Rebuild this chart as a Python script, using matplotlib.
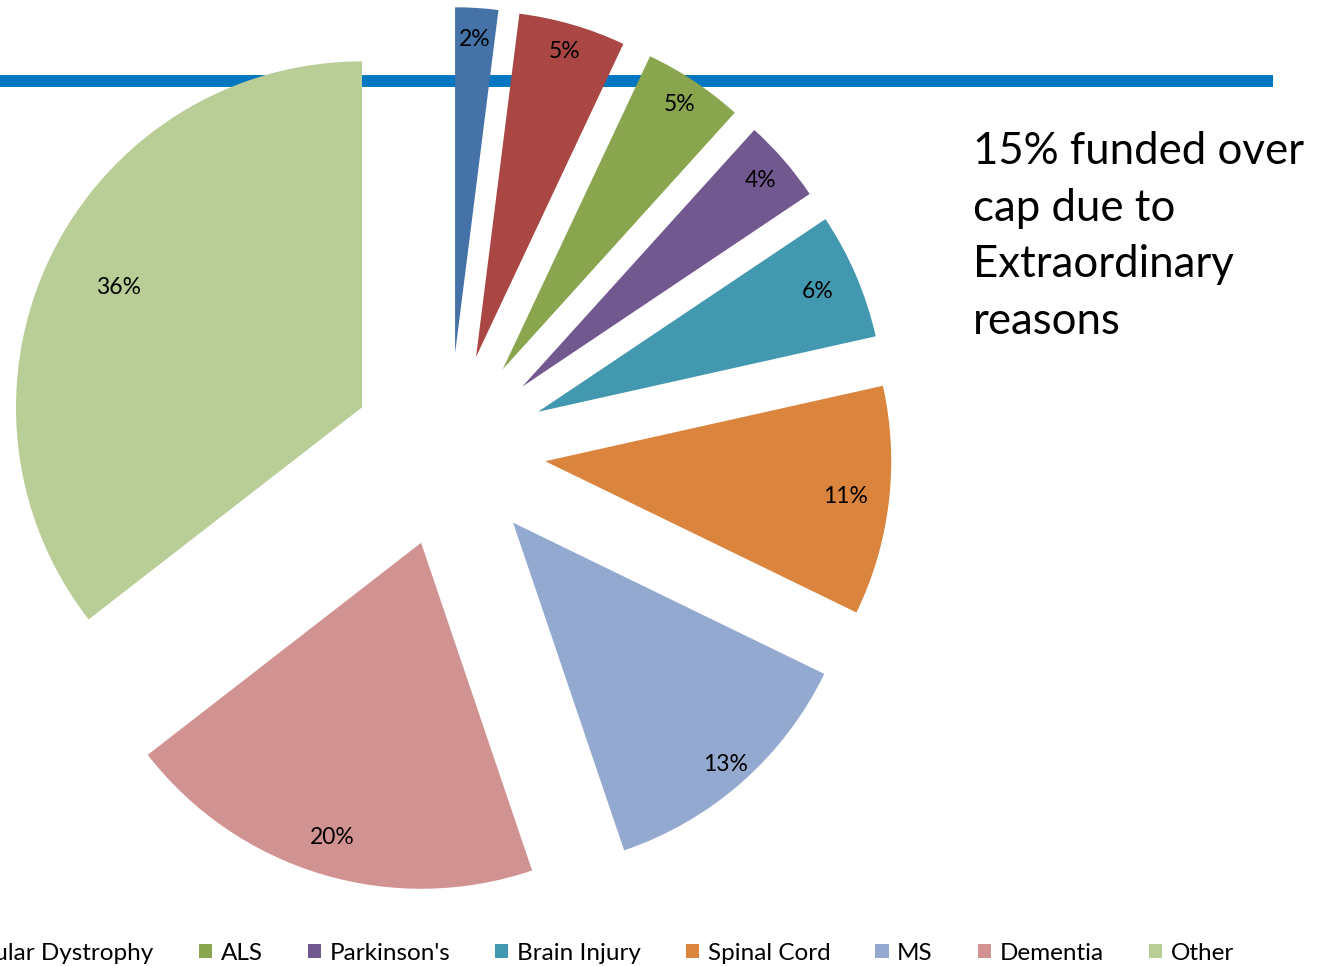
import matplotlib.pyplot as plt
from matplotlib.patches import Patch
import numpy as np

plt.rcParams['font.family'] = ['Lato', 'DejaVu Sans']

# slice data, clockwise from 12 o'clock
categories = ["Cerebral Palsy", "Muscular Dystrophy", "ALS", "Parkinson's", "Brain Injury",
              "Spinal Cord", "MS", "Dementia", "Other"]
values = [2.0, 5.0, 4.7, 3.9, 5.9, 10.7, 12.6, 19.7, 35.5]
colors = ['#4572A7', '#AA4643', '#89A54E', '#71588F', '#4198AF',
          '#DB843D', '#93A9CF', '#D19392', '#B9CD96']
note = "15% funded over\ncap due to\nExtraordinary\nreasons"

# layout (pixels of the output image)
W, H = 1325, 966
cx, cy, R = 449, 450, 346
label_dist = [0.91, 0.92, 0.92, 0.91, 0.88, 0.875, 0.93, 0.89, 0.785]

fig = plt.figure(figsize=(W / 100, H / 100), dpi=100)
ax = fig.add_axes([0, 0, 1, 1])

wedges, texts, autotexts = ax.pie(values, colors=colors, explode=[0.28] * len(values),
                                  startangle=90, counterclock=False, autopct='%.0f%%',
                                  pctdistance=0.9, wedgeprops=dict(linewidth=0),
                                  textprops=dict(fontsize=16.5, color='black'))

# put the percent labels near the outer edge like Excel does
for w, t, d in zip(wedges, autotexts, label_dist):
    theta = np.deg2rad((w.theta1 + w.theta2) / 2)
    t.set_position((w.center[0] + d * np.cos(theta), w.center[1] + d * np.sin(theta)))
    t.set_ha('center')
    t.set_va('center')

ax.set_xlim(-cx / R, (W - cx) / R)
ax.set_ylim(-(H - cy) / R, cy / R)
ax.set_aspect('equal')
ax.axis('off')

# blue rule behind the pie
ax.axhline((cy - 81) / R, xmin=0, xmax=1273 / W, color='#0077C0', lw=8.6,
           solid_capstyle='butt', zorder=0)

fig.text(973 / W, 1 - 131 / H, note, fontsize=31.5, va='top', ha='left', linespacing=1.47)

handles = [Patch(facecolor=c, edgecolor='none') for c in colors]
fig.legend(handles, categories, loc='center right', bbox_to_anchor=(1246 / W, 1 - 953 / H),
           ncol=len(categories), frameon=False, fontsize=17.5, borderpad=0,
           handlelength=0.55, handleheight=0.55, handletextpad=0.35, columnspacing=1.85)

plt.savefig('out.png', dpi=100)
